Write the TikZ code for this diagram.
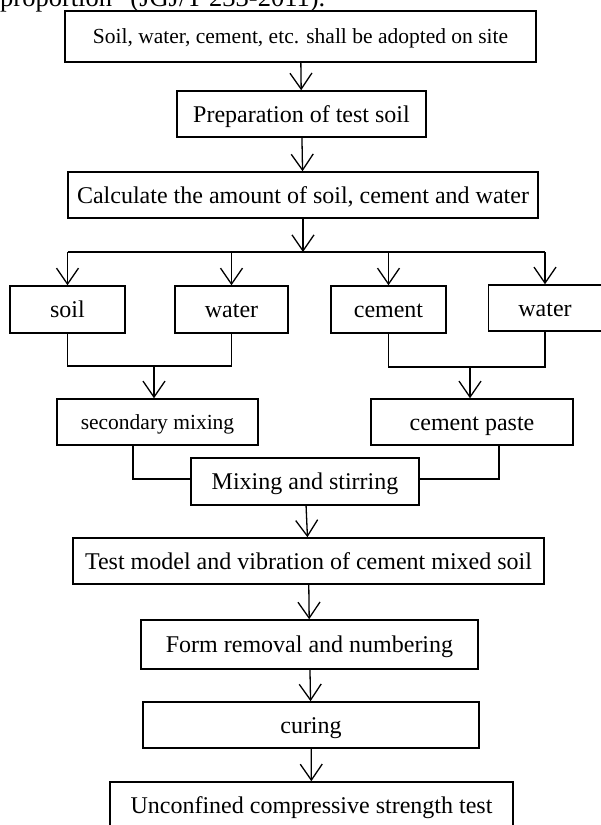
\documentclass[tikz,border=0pt]{standalone}
\usepackage{fontspec}
\setmainfont{Liberation Serif}
\usepackage{tikz}
\usetikzlibrary{arrows.meta}
\tikzstyle{vhead}=[>/.tip={Straight Barb[length=16pt,width=22pt]}]
\tikzstyle{flow}=[line width=1.3pt,vhead,->]
\tikzstyle{link}=[line width=1.3pt]
\tikzstyle{stepbox}=[draw,line width=1.5pt,inner sep=0pt,text height=16pt,text depth=0pt,font=\fontsize{24}{28}\selectfont]
\tikzstyle{smallbox}=[stepbox,text height=14.5pt,font=\fontsize{21.5}{25}\selectfont]

\begin{document}
\begin{tikzpicture}[x=1pt,y=-1pt]
	\clip (0,0) rectangle (601,825);
	\node[anchor=base west,inner sep=0pt,font=\fontsize{26.5}{30}\selectfont] (cite) at (0,6.5) {proportion” (JGJ/T 233-2011).};
	\node[smallbox,minimum width=471pt,minimum height=51pt] (site)   at (300.5,36.5) {Soil, water, cement, etc. shall be adopted on site};
	\node[stepbox, minimum width=249pt,minimum height=46pt] (prep)   at (301.5,114)  {Preparation of test soil};
	\node[stepbox, minimum width=470pt,minimum height=46pt] (calc)   at (303,195)    {Calculate the amount of soil, cement and water};
	\node[stepbox, minimum width=115pt,minimum height=47pt] (soil)   at (67.5,309.5) {soil};
	\node[stepbox, minimum width=113pt,minimum height=47pt] (water1) at (231.5,309.5){water};
	\node[stepbox, minimum width=115pt,minimum height=47pt] (cement) at (388.5,309.5){cement};
	\node[stepbox, minimum width=113pt,minimum height=46pt] (water2) at (545,308)    {water};
	\node[smallbox,minimum width=201pt,minimum height=46pt] (mix2)   at (157.5,422)  {secondary mixing};
	\node[stepbox, minimum width=202pt,minimum height=46pt] (paste)  at (472,422)    {cement paste};
	\node[stepbox, minimum width=228pt,minimum height=47pt] (stir)   at (305,481.5)  {Mixing and stirring};
	\node[stepbox, minimum width=471pt,minimum height=46pt] (test)   at (308.5,561)  {Test model and vibration of cement mixed soil};
	\node[stepbox, minimum width=337pt,minimum height=49pt] (form)   at (309.5,644.5){Form removal and numbering};
	\node[stepbox, minimum width=336pt,minimum height=46pt] (cure)   at (311,725)    {curing};
	\node[stepbox, minimum width=403pt,minimum height=46pt] (ucs)    at (311.5,805)  {Unconfined compressive strength test};
	% branch and join points
	\coordinate (split) at (303,252);
	\coordinate (j1) at (154,366);
	\coordinate (j2) at (470,367);
	\coordinate (c1) at (133,479);
	\coordinate (c2) at (499,479);
	\draw[flow] (site) -- (prep);
	\draw[flow] (prep) -- (calc);
	\draw[flow] (calc) -- (split);
	\draw[link] (soil |- split) -- (water2 |- split);
	\foreach \n in {soil,water1,cement,water2}
		\draw[flow] (\n |- split) -- (\n);
	\draw[link] (soil) |- (j1) -| (water1);
	\draw[link] (cement) |- (j2) -| (water2);
	\draw[flow] (j1) -- (j1 |- mix2.north);
	\draw[flow] (j2) -- (j2 |- paste.north);
	\draw[link] (c1 |- mix2.south) -- (c1) -- (c1 -| stir.west);
	\draw[link] (c2 |- paste.south) -- (c2) -- (c2 -| stir.east);
	\draw[flow] (stir) -- (test);
	\draw[flow] (test) -- (form);
	\draw[flow] (form) -- (cure);
	\draw[flow] (cure) -- (ucs);
\end{tikzpicture}
\end{document}
